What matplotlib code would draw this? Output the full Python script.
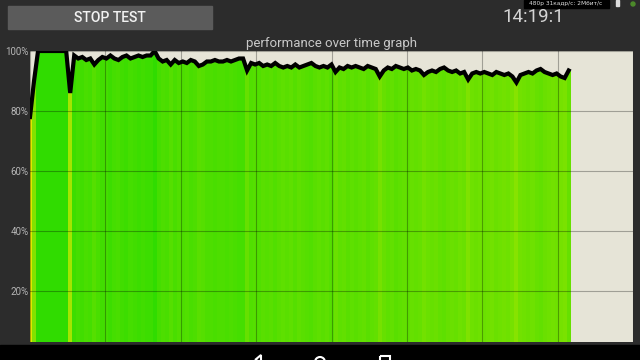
import numpy as np
import matplotlib
matplotlib.use("Agg")
import matplotlib.pyplot as plt
from matplotlib.patches import Rectangle, Circle, Polygon

plt.rcParams['font.family'] = ['Roboto', 'DejaVu Sans']

# performance samples (% of peak)
perf = [78, 90, 100, 100, 100, 100, 100, 100, 100, 100,
        86, 98.5, 97.5, 98, 97, 97.5, 95.5, 97, 98, 97.5,
        98.5, 97.5, 97, 98, 98.5, 97.5, 98, 98.5, 98, 98.5,
        98.5, 100, 97.5, 96.5, 97, 95.5, 97, 96, 96.5, 96,
        97, 96.5, 95, 95.5, 96.5, 96.5, 97, 96.5, 96.5, 97,
        96.5, 97, 97.5, 97.5, 93.5, 96, 95.5, 96, 95, 95.5,
        95, 96, 95, 94.5, 95, 94.5, 95.5, 94.5, 95, 95.5,
        96, 95, 94.5, 95, 94.5, 95.5, 93, 94.5, 94, 95,
        94.5, 95, 94.5, 94, 95, 94.5, 94, 91.5, 93.5, 94.5,
        94, 95, 94.5, 94, 94.5, 93.5, 94, 93.5, 92, 93,
        93.5, 93, 94, 94.5, 93.5, 93, 93.5, 92.5, 93, 90.5,
        92.5, 93, 92.5, 93, 92.5, 92, 93, 92.5, 92, 92.5,
        91.5, 89.5, 92, 92.5, 93, 92.5, 93.5, 94, 93, 92.5,
        92, 92.5, 91.5, 91, 93.5]
yticks = [20, 40, 60, 80, 100]
ylabels = ["20%", "40%", "60%", "80%", "100%"]
title = "performance over time graph"
clock = "14:19:1"
button_text = "STOP TEST"
status_text = "480p 31кадр/с: 2Мбит/с"

bg_col = "#2c2c2c"
beige = "#e6e4d7"
green = np.array([0x30, 0xdc, 0x00]) / 255
yellow = np.array([0xe6, 0xea, 0x00]) / 255

fig = plt.figure(figsize=(6.4, 3.6), dpi=100, facecolor=bg_col)

# screen decorations in pixel coordinates
bg = fig.add_axes([0, 0, 1, 1])
bg.set_xlim(0, 640)
bg.set_ylim(360, 0)
bg.axis("off")
bg.add_patch(Rectangle((0, 345), 640, 15, color="black"))
bg.add_patch(Rectangle((8, 6), 204, 23, color="#5b5b5b"))
bg.text(110, 17.5, button_text, color="#f2f2f2", fontsize=10, fontweight="medium",
        ha="center", va="center")
bg.text(502, 17, clock, color="#d4d4d4", fontsize=13.5, fontweight="normal",
        ha="left", va="center")
bg.add_patch(Rectangle((524, 0), 85, 7.5, color="black"))
bg.text(566, 3.5, status_text, color="#dddddd", fontsize=4.2, ha="center", va="center",
        family=["DejaVu Sans"])
bg.add_patch(Rectangle((616, 0), 3, 6, color="#dddddd"))
bg.add_patch(Circle((633, 4), 2, color="#4c8a2a"))
# nav buttons (only their tops are visible)
bg.add_patch(Polygon([[255, 360], [261, 355], [261, 362]], closed=True, fill=False,
                     edgecolor="white", lw=1.5))
bg.add_patch(Circle((320, 362), 5, fill=False, edgecolor="white", lw=1.5))
bg.add_patch(Rectangle((380, 356), 10, 8, fill=False, edgecolor="white", lw=1.5))

ax = fig.add_axes([30 / 640, 18 / 360, 603 / 640, 291 / 360])
ax.set_facecolor(beige)

x = np.arange(len(perf))
vals = np.array(perf)
t = np.clip((100 - vals) / 22.0, 0, 1)[:, None]
cols = green * (1 - t) + yellow * t

ax.bar(x, vals, width=1.0, color=cols, edgecolor="none", zorder=1)
ax.fill_between(x, vals, 101, color=beige, lw=0, zorder=2)
ax.plot(x, vals, color="black", lw=3.0, solid_joinstyle="miter", zorder=4)

ax.set_xlim(0, 150)
ax.set_ylim(3, 100)
ax.set_xticks(np.arange(0, 151, 18.75))
ax.set_yticks(yticks)
ax.set_yticklabels(ylabels)
ax.tick_params(axis="x", length=0, labelbottom=False)
ax.tick_params(axis="y", length=0, pad=1, labelsize=7, labelcolor="#b5b5b5")
ax.grid(True, color="black", alpha=0.3, lw=0.8, zorder=3)
ax.set_axisbelow(False)
for s in ax.spines.values():
    s.set_visible(False)

ax.set_title(title, color="#c8c8c8", fontsize=9.5, pad=3)

fig.savefig("out.png", dpi=100, facecolor=bg_col)
